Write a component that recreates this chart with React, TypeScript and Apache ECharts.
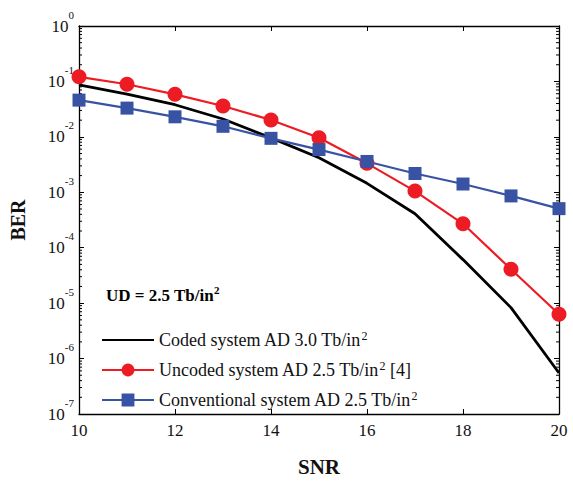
import React, { useEffect, useRef } from "react";
import * as echarts from "echarts";

const snr = [10, 11, 12, 13, 14, 15, 16, 17, 18, 19, 20];
const coded = [0.087, 0.059, 0.038, 0.021, 0.0096, 0.0042, 0.00145, 0.00041, 6.1e-5, 8.3e-6, 5.5e-7];
const uncoded = [0.121, 0.089, 0.0585, 0.036, 0.0202, 0.0096, 0.00333, 0.00105, 0.00027, 4.1e-5, 6.3e-6];
const conventional = [0.046, 0.033, 0.023, 0.0155, 0.0094, 0.0059, 0.0036, 0.00218, 0.00141, 0.00086, 0.000507];
const seriesNames = [
  "Coded system AD 3.0 Tb/in",
  "Uncoded system AD 2.5 Tb/in",
  "Conventional system AD 2.5 Tb/in",
];
const legendTexts = [
  "Coded system AD 3.0 Tb/in{sup|2}",
  "Uncoded system AD 2.5 Tb/in{sup|2} [4]",
  "Conventional system AD 2.5 Tb/in{sup|2}",
];
const decades = [-7, -6, -5, -4, -3, -2, -1];
const minorMultipliers = [2, 3, 4, 5, 6, 7, 8, 9];

const FONT = "'Liberation Serif', 'Times New Roman', serif";

export default function App() {
  const ref = useRef<HTMLDivElement>(null);
  useEffect(() => {
    document.body.style.margin = "0";
    if (!ref.current) return;
    const chart = echarts.init(ref.current, null, { renderer: "svg" });
    const minorVals: number[] = [];
    decades.forEach((d) => minorMultipliers.forEach((m) => minorVals.push(m * Math.pow(10, d))));

    const zip = (ys: number[]) => snr.map((x, i) => [x, ys[i]]);

    const yLabelFormatter = (v: number) => {
      const e = Math.round(Math.log10(v));
      return `{b|10}{s|${e}}`;
    };

    chart.setOption({
      animation: false,
      backgroundColor: "#fff",
      grid: { left: 73, right: 14, top: 26, bottom: 51 },
      legend: {
        data: [
          { name: seriesNames[0], itemStyle: { opacity: 0 } },
          { name: seriesNames[1] },
          { name: seriesNames[2] },
        ],
        orient: "vertical",
        left: 96,
        top: 325,
        itemWidth: 52,
        itemHeight: 16,
        itemGap: 10,
        formatter: (name: string) => legendTexts[seriesNames.indexOf(name)],
        textStyle: {
          fontFamily: FONT,
          fontSize: 18,
          color: "#111",
          lineHeight: 20,
          rich: {
            sup: { fontSize: 12, fontFamily: FONT, verticalAlign: "top", lineHeight: 12, color: "#111" },
          },
        },
      },
      graphic: [
        {
          type: "text",
          left: 106,
          top: 284,
          style: {
            text: "{m|UD = 2.5 Tb/in}{s|2}",
            rich: {
              m: { fontFamily: FONT, fontSize: 17, fontWeight: "bold", fill: "#000", lineHeight: 20, verticalAlign: "bottom" },
              s: { fontFamily: FONT, fontSize: 11, fontWeight: "bold", fill: "#000", verticalAlign: "top", lineHeight: 12 },
            },
          },
        },
      ],
      xAxis: [
        {
          type: "value",
          min: 10,
          max: 20,
          interval: 2,
          name: "SNR",
          nameLocation: "middle",
          nameGap: 42,
          nameTextStyle: { fontFamily: FONT, fontSize: 21, fontWeight: "bold", color: "#111" },
          axisLine: { show: true, lineStyle: { color: "#000", width: 1.3 } },
          axisTick: { show: true, inside: true, length: 5, lineStyle: { color: "#000" } },
          axisLabel: { fontFamily: FONT, fontSize: 17, color: "#111", margin: 8 },
          splitLine: { show: false },
        },
        {
          type: "value",
          position: "top",
          min: 10,
          max: 20,
          interval: 2,
          axisLine: { show: true, lineStyle: { color: "#000", width: 1.3 } },
          axisTick: { show: true, inside: true, length: 5, lineStyle: { color: "#000" } },
          axisLabel: { show: false },
          splitLine: { show: false },
        },
      ],
      yAxis: [
        {
          type: "log",
          logBase: 10,
          min: 1e-7,
          max: 1,
          splitNumber: 7,
          name: "BER",
          nameLocation: "middle",
          nameGap: 51,
          nameTextStyle: { fontFamily: FONT, fontSize: 20, fontWeight: "bold", color: "#111" },
          axisLine: { show: true, lineStyle: { color: "#000", width: 1.3 } },
          axisTick: { show: true, inside: true, length: 5, lineStyle: { color: "#000" } },
          axisLabel: {
            formatter: yLabelFormatter,
            margin: 5,
            rich: {
              b: { fontFamily: FONT, fontSize: 17, color: "#111", lineHeight: 34, verticalAlign: "middle" },
              s: { fontFamily: FONT, fontSize: 11, color: "#111", verticalAlign: "top", lineHeight: 12 },
            },
          },
          splitLine: { show: false },
        },
        {
          type: "log",
          logBase: 10,
          position: "right",
          min: 1e-7,
          max: 1,
          splitNumber: 7,
          axisLine: { show: true, lineStyle: { color: "#000", width: 1.3 } },
          axisTick: { show: true, inside: true, length: 5, lineStyle: { color: "#000" } },
          axisLabel: { show: false },
          splitLine: { show: false },
        },
      ],
      series: [
        {
          name: "minorTicks",
          type: "custom",
          silent: true,
          clip: false,
          data: minorVals.map((v) => [10, v]),
          renderItem: (params: any, api: any) => {
            const v = api.value(1);
            const pl = api.coord([10, v]);
            const pr = api.coord([20, v]);
            const st = { stroke: "#000", lineWidth: 1 };
            return {
              type: "group",
              children: [
                { type: "line", shape: { x1: pl[0], y1: pl[1], x2: pl[0] + 3, y2: pl[1] }, style: st },
                { type: "line", shape: { x1: pr[0], y1: pr[1], x2: pr[0] - 3, y2: pr[1] }, style: st },
              ],
            };
          },
        },
        {
          name: seriesNames[0],
          type: "line",
          data: zip(coded),
          showSymbol: false,
          symbol: "none",
          lineStyle: { color: "#000", width: 2.8 },
          itemStyle: { color: "#000" },
        },
        {
          name: seriesNames[1],
          type: "line",
          data: zip(uncoded),
          symbol: "circle",
          symbolSize: 15,
          lineStyle: { color: "#ED1C24", width: 2.2 },
          itemStyle: { color: "#ED1C24" },
        },
        {
          name: seriesNames[2],
          type: "line",
          data: zip(conventional),
          symbol: "rect",
          symbolSize: 13,
          lineStyle: { color: "#3953A4", width: 2.2 },
          itemStyle: { color: "#3953A4" },
        },
      ],
    });
    return () => chart.dispose();
  }, []);
  return <div ref={ref} style={{ width: 573, height: 482 }} />;
}
